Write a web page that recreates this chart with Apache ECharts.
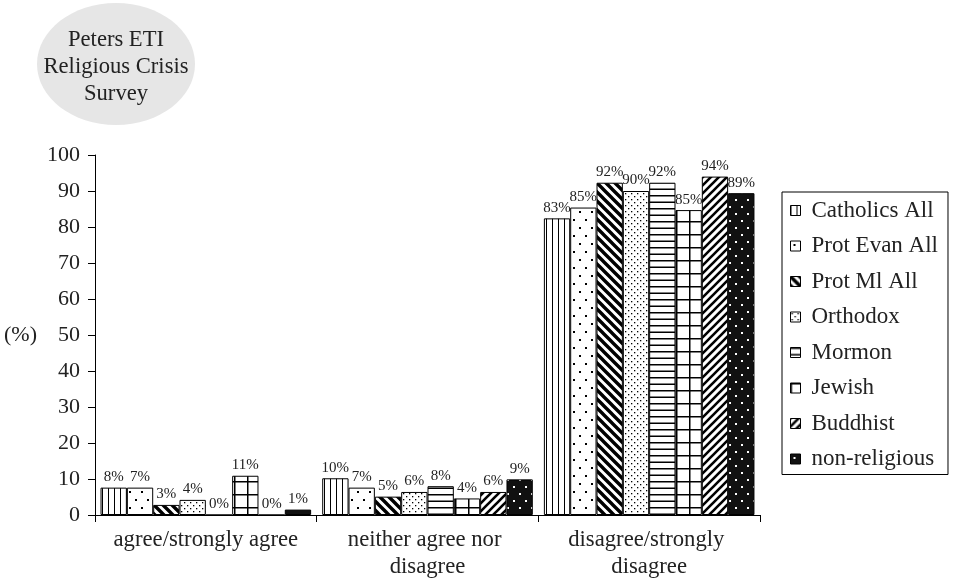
<!DOCTYPE html>
<html>
<head>
<meta charset="utf-8">
<script src="https://cdn.jsdelivr.net/npm/echarts@6/dist/echarts.min.js"></script>
<style>
  html, body { margin: 0; padding: 0; background: #fff; }
  #chart { width: 955px; height: 581px; }
</style>
</head>
<body>
<div id="chart"></div>
<script>
// ---- data ----
var categories = ['agree/strongly agree', 'neither agree nor disagree', 'disagree/strongly disagree'];
var seriesNames = ['Catholics All', 'Prot Evan All', 'Prot Ml All', 'Orthodox', 'Mormon', 'Jewish', 'Buddhist', 'non-religious'];
var catholics = [7.6, 10.2, 82.4];
var protEvan = [7.6, 7.6, 85.4];
var protMl = [2.8, 5.1, 92.3];
var orthodox = [4.2, 6.4, 90.0];
var mormon = [0, 8.0, 92.3];
var jewish = [10.9, 4.6, 84.7];
var buddhist = [0, 6.4, 94.0];
var nonReligious = [1.5, 9.9, 89.4];
var catholicsLabels = ['8%', '10%', '83%'];
var protEvanLabels = ['7%', '7%', '85%'];
var protMlLabels = ['3%', '5%', '92%'];
var orthodoxLabels = ['4%', '6%', '90%'];
var mormonLabels = ['0%', '8%', '92%'];
var jewishLabels = ['11%', '4%', '85%'];
var buddhistLabels = ['0%', '6%', '94%'];
var nonReligiousLabels = ['1%', '9%', '89%'];
var yTicks = { min: 0, max: 100, interval: 10 };
var titleLines = ['Peters ETI', 'Religious Crisis', 'Survey'];

// ---- patterns ----
function mk(w, h, draw) {
  var c = document.createElement('canvas');
  c.width = w; c.height = h;
  var g = c.getContext('2d');
  draw(g, w, h);
  return { image: c, repeat: 'repeat' };
}
function dot(g, x, y, r, col) { g.fillStyle = col; g.fillRect(x, y, r, r); }
var patterns = [
  mk(6, 6, function (g, w, h) { g.fillStyle = '#fff'; g.fillRect(0, 0, w, h); g.fillStyle = '#000'; g.fillRect(0, 0, 1, h); }),
  mk(12, 16, function (g, w, h) { g.fillStyle = '#fff'; g.fillRect(0, 0, w, h); dot(g, 3, 3, 2, '#000'); dot(g, 9, 11, 2, '#000'); }),
  mk(9, 9, function (g, w, h) {
    g.fillStyle = '#fff'; g.fillRect(0, 0, w, h);
    g.strokeStyle = '#000'; g.lineWidth = 3.4;
    g.beginPath();
    for (var k = -1; k <= 1; k++) { g.moveTo(k * w - 2, -2); g.lineTo(k * w + w + 2, h + 2); }
    g.stroke();
  }),
  mk(6, 6, function (g, w, h) { g.fillStyle = '#fff'; g.fillRect(0, 0, w, h); dot(g, 1, 1, 1.3, '#000'); dot(g, 4, 4, 1.3, '#000'); }),
  mk(13, 13, function (g, w, h) { g.fillStyle = '#fff'; g.fillRect(0, 0, w, h); g.fillStyle = '#000'; g.fillRect(0, 0, w, 1.5); g.fillRect(0, 6.5, w, 1.5); }),
  mk(13, 13, function (g, w, h) { g.fillStyle = '#fff'; g.fillRect(0, 0, w, h); g.fillStyle = '#000'; g.fillRect(0, 0, w, 1.5); g.fillRect(0, 0, 1.5, h); }),
  mk(8, 8, function (g, w, h) {
    g.fillStyle = '#fff'; g.fillRect(0, 0, w, h);
    g.strokeStyle = '#000'; g.lineWidth = 2.6;
    g.beginPath();
    for (var k = -1; k <= 1; k++) { g.moveTo(k * w - 2, h + 2); g.lineTo(k * w + w + 2, -2); }
    g.stroke();
  }),
  mk(12, 14, function (g, w, h) { g.fillStyle = '#111'; g.fillRect(0, 0, w, h); dot(g, 3, 3, 2, '#fff'); dot(g, 9, 10, 2, '#fff'); })
];

var seriesData = [catholics, protEvan, protMl, orthodox, mormon, jewish, buddhist, nonReligious];
var seriesLabels = [catholicsLabels, protEvanLabels, protMlLabels, orthodoxLabels, mormonLabels, jewishLabels, buddhistLabels, nonReligiousLabels];

var FONT = '"Liberation Serif", "DejaVu Serif", serif';
var TXT = '#222';

var series = seriesNames.map(function (name, i) {
  var labs = seriesLabels[i];
  return {
    name: name,
    type: 'bar',
    data: seriesData[i],
    barGap: '0%',
    barCategoryGap: '5%',
    itemStyle: { color: patterns[i], borderColor: '#000', borderWidth: 1 },
    label: {
      show: true, position: 'top', distance: 3,
      fontFamily: FONT, fontSize: 15, color: TXT,
      formatter: function (p) { return labs[p.dataIndex]; }
    },
    emphasis: { disabled: true },
    animation: false
  };
});

var chart = echarts.init(document.getElementById('chart'), null, { renderer: 'canvas' });
chart.setOption({
  animation: false,
  backgroundColor: '#fff',
  grid: { left: 95, right: 195, top: 155, bottom: 66, containLabel: false, outerBoundsMode: 'none' },
  legend: {
    orient: 'vertical',
    left: 782, top: 192,
    data: seriesNames,
    icon: 'rect',
    itemWidth: 10, itemHeight: 10,
    itemGap: 12.5,
    padding: [7, 10, 4, 8],
    borderColor: '#000', borderWidth: 1,
    itemStyle: { borderColor: '#000', borderWidth: 1 },
    textStyle: { fontFamily: FONT, fontSize: 23, color: TXT, lineHeight: 22, padding: [0, 0, 0, 6] },
    selectedMode: false
  },
  xAxis: {
    type: 'category',
    data: categories,
    axisLine: { lineStyle: { color: '#000', width: 1 } },
    axisTick: { show: true, length: 7, lineStyle: { color: '#000' } },
    axisLabel: {
      interval: 0, fontFamily: FONT, fontSize: 22.7, color: TXT, lineHeight: 27,
      width: 215, overflow: 'break', margin: 12
    }
  },
  yAxis: {
    type: 'value',
    min: yTicks.min, max: yTicks.max, interval: yTicks.interval,
    name: '(%)', nameLocation: 'middle', nameRotate: 0, nameGap: 58,
    nameTextStyle: { fontFamily: FONT, fontSize: 22, color: TXT },
    axisLine: { show: true, lineStyle: { color: '#000', width: 1 } },
    axisTick: { show: true, length: 7, lineStyle: { color: '#000' } },
    splitLine: { show: false },
    axisLabel: { fontFamily: FONT, fontSize: 22, color: TXT, margin: 15 }
  },
  graphic: [
    { type: 'ellipse', shape: { cx: 116, cy: 64, rx: 79, ry: 61 }, style: { fill: '#e6e6e6' }, z: 0 },
    {
      type: 'text', x: 116, y: 27, z: 1,
      style: {
        text: titleLines.join('\n'), textAlign: 'center', align: 'center',
        font: '22.6px "Liberation Serif", serif', fill: TXT, lineHeight: 27
      }
    }
  ],
  series: series
});
</script>
</body>
</html>
